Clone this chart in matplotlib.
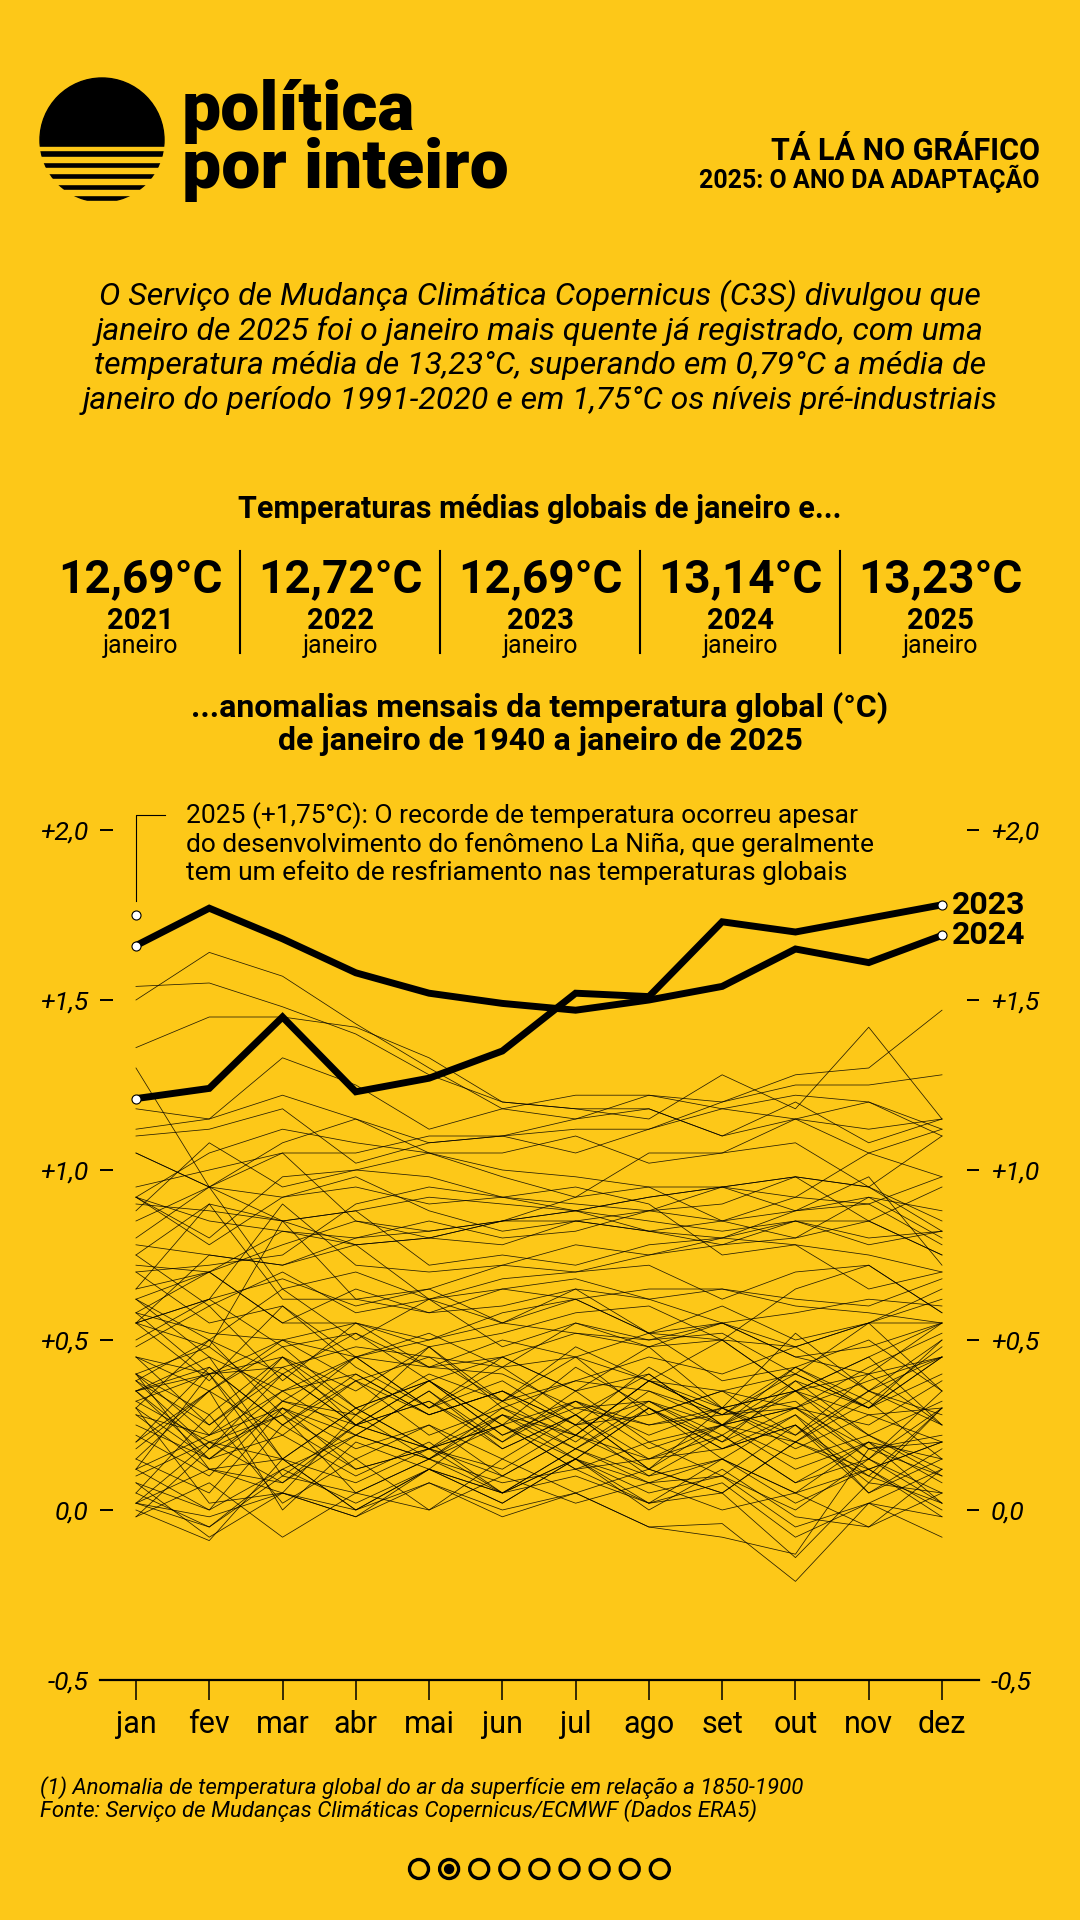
import matplotlib.pyplot as plt
from matplotlib.patches import Circle, Rectangle

BG = '#FDC818'
COND = ['Liberation Sans Narrow', 'Roboto', 'DejaVu Sans']
LOGO = ['Roboto', 'DejaVu Sans']

months = ['jan', 'fev', 'mar', 'abr', 'mai', 'jun', 'jul', 'ago', 'set', 'out', 'nov', 'dez']

# monthly anomalies (°C vs 1850-1900), 1940-2022
hist_years = list(range(1940, 2023))
hist = [
    [0.15, 0.35, 0.48, 0.30, 0.38, 0.25, 0.42, 0.30, 0.20, 0.38, 0.30, 0.45],
    [0.55, 0.38, 0.60, 0.42, 0.30, 0.45, 0.35, 0.48, 0.30, 0.52, 0.35, 0.45],
    [0.40, 0.22, 0.45, 0.30, 0.38, 0.25, 0.32, 0.22, 0.30, 0.20, 0.35, 0.25],
    [0.20, 0.42, 0.25, 0.40, 0.28, 0.35, 0.22, 0.38, 0.28, 0.42, 0.32, 0.48],
    [0.58, 0.40, 0.50, 0.38, 0.45, 0.32, 0.48, 0.38, 0.50, 0.35, 0.45, 0.25],
    [0.38, 0.18, 0.35, 0.45, 0.30, 0.38, 0.25, 0.42, 0.30, 0.35, 0.18, 0.10],
    [0.32, 0.20, 0.28, 0.15, 0.25, 0.10, 0.22, 0.12, 0.05, 0.20, 0.10, 0.02],
    [0.15, 0.05, 0.30, 0.22, 0.35, 0.18, 0.28, 0.15, 0.25, 0.38, 0.22, 0.12],
    [0.40, 0.12, 0.05, 0.28, 0.15, 0.25, 0.12, 0.20, 0.10, 0.25, 0.05, 0.15],
    [0.30, 0.15, 0.22, 0.10, 0.20, 0.05, 0.18, 0.08, 0.15, 0.02, 0.12, -0.02],
    [0.00, -0.09, 0.15, 0.00, 0.12, 0.05, 0.15, 0.02, 0.08, -0.08, 0.02, 0.12],
    [0.05, -0.05, 0.12, 0.22, 0.15, 0.28, 0.18, 0.32, 0.20, 0.30, 0.15, 0.35],
    [0.35, 0.40, 0.15, 0.30, 0.18, 0.25, 0.15, 0.30, 0.18, 0.25, 0.10, 0.30],
    [0.40, 0.28, 0.45, 0.25, 0.38, 0.22, 0.32, 0.25, 0.30, 0.18, 0.28, 0.20],
    [0.05, 0.28, 0.02, 0.15, 0.00, 0.15, 0.05, 0.12, 0.05, 0.20, 0.12, 0.00],
    [0.30, 0.02, 0.05, -0.02, 0.12, 0.02, 0.15, 0.05, 0.10, -0.05, 0.02, -0.02],
    [-0.02, 0.08, -0.08, 0.05, 0.00, 0.10, 0.02, 0.08, 0.00, 0.05, -0.05, 0.12],
    [0.02, 0.20, 0.08, 0.25, 0.18, 0.32, 0.20, 0.35, 0.25, 0.30, 0.38, 0.45],
    [0.62, 0.45, 0.35, 0.22, 0.35, 0.20, 0.32, 0.18, 0.25, 0.20, 0.32, 0.15],
    [0.35, 0.18, 0.40, 0.25, 0.32, 0.20, 0.35, 0.20, 0.25, 0.12, 0.20, 0.15],
    [0.18, 0.35, 0.00, 0.20, 0.12, 0.28, 0.15, 0.30, 0.18, 0.25, 0.08, 0.30],
    [0.35, 0.42, 0.25, 0.38, 0.22, 0.30, 0.18, 0.30, 0.15, 0.28, 0.12, 0.20],
    [0.28, 0.22, 0.30, 0.18, 0.25, 0.15, 0.28, 0.12, 0.25, 0.15, 0.22, 0.10],
    [0.12, 0.40, 0.10, 0.25, 0.18, 0.28, 0.22, 0.38, 0.30, 0.35, 0.28, 0.30],
    [0.28, 0.12, 0.15, 0.00, 0.08, -0.02, 0.05, -0.05, -0.04, -0.21, 0.02, -0.08],
    [0.08, 0.00, 0.12, 0.02, 0.12, 0.05, 0.10, 0.02, 0.15, 0.05, 0.12, 0.20],
    [0.10, 0.20, 0.15, 0.08, 0.18, 0.12, 0.25, 0.10, 0.22, 0.08, 0.15, 0.02],
    [0.12, 0.00, 0.25, 0.12, 0.18, 0.10, 0.22, 0.15, 0.18, 0.28, 0.05, 0.18],
    [-0.02, 0.18, 0.28, 0.05, 0.15, 0.05, 0.18, 0.10, 0.15, 0.05, 0.20, 0.08],
    [0.12, 0.22, 0.35, 0.40, 0.28, 0.35, 0.25, 0.32, 0.22, 0.35, 0.40, 0.45],
    [0.35, 0.45, 0.15, 0.30, 0.18, 0.25, 0.12, 0.15, 0.22, 0.08, 0.20, 0.02],
    [0.08, -0.08, 0.05, 0.00, 0.12, 0.02, 0.15, 0.08, 0.10, 0.00, 0.15, 0.05],
    [0.02, 0.12, 0.08, 0.22, 0.15, 0.30, 0.22, 0.38, 0.28, 0.40, 0.30, 0.50],
    [0.50, 0.62, 0.48, 0.52, 0.42, 0.45, 0.35, 0.40, 0.25, 0.30, 0.18, 0.20],
    [0.02, -0.05, 0.10, 0.05, 0.15, 0.08, 0.12, 0.02, 0.05, -0.14, 0.08, 0.05],
    [0.25, 0.15, 0.30, 0.12, 0.18, 0.05, 0.15, 0.00, 0.12, -0.02, -0.05, 0.05],
    [0.02, -0.02, 0.05, -0.02, 0.08, 0.00, 0.05, -0.05, -0.08, -0.13, 0.18, 0.22],
    [0.32, 0.40, 0.45, 0.35, 0.48, 0.32, 0.45, 0.28, 0.35, 0.22, 0.35, 0.28],
    [0.38, 0.25, 0.40, 0.25, 0.32, 0.18, 0.28, 0.12, 0.30, 0.22, 0.40, 0.25],
    [0.22, 0.10, 0.32, 0.28, 0.40, 0.32, 0.38, 0.45, 0.40, 0.48, 0.55, 0.65],
    [0.48, 0.60, 0.38, 0.55, 0.42, 0.50, 0.45, 0.52, 0.38, 0.42, 0.50, 0.35],
    [0.70, 0.55, 0.60, 0.45, 0.52, 0.42, 0.55, 0.48, 0.50, 0.35, 0.45, 0.55],
    [0.20, 0.35, 0.22, 0.38, 0.28, 0.35, 0.25, 0.28, 0.35, 0.30, 0.42, 0.52],
    [0.62, 0.50, 0.65, 0.50, 0.62, 0.48, 0.55, 0.50, 0.52, 0.40, 0.55, 0.35],
    [0.45, 0.25, 0.42, 0.28, 0.48, 0.30, 0.38, 0.35, 0.28, 0.32, 0.15, 0.30],
    [0.35, 0.15, 0.32, 0.25, 0.38, 0.22, 0.30, 0.32, 0.25, 0.35, 0.22, 0.32],
    [0.40, 0.48, 0.32, 0.45, 0.30, 0.42, 0.28, 0.40, 0.25, 0.42, 0.30, 0.45],
    [0.38, 0.50, 0.28, 0.45, 0.50, 0.58, 0.62, 0.52, 0.60, 0.50, 0.55, 0.62],
    [0.75, 0.60, 0.70, 0.58, 0.62, 0.55, 0.62, 0.52, 0.55, 0.48, 0.35, 0.50],
    [0.30, 0.50, 0.40, 0.52, 0.38, 0.45, 0.52, 0.48, 0.55, 0.45, 0.40, 0.55],
    [0.55, 0.48, 0.85, 0.62, 0.65, 0.55, 0.65, 0.52, 0.50, 0.65, 0.72, 0.58],
    [0.62, 0.70, 0.55, 0.65, 0.58, 0.65, 0.68, 0.62, 0.55, 0.45, 0.48, 0.55],
    [0.58, 0.52, 0.50, 0.45, 0.42, 0.40, 0.30, 0.25, 0.28, 0.30, 0.25, 0.38],
    [0.45, 0.40, 0.42, 0.48, 0.45, 0.42, 0.45, 0.38, 0.35, 0.40, 0.30, 0.40],
    [0.45, 0.35, 0.50, 0.55, 0.50, 0.55, 0.52, 0.50, 0.55, 0.58, 0.62, 0.60],
    [0.80, 0.95, 0.65, 0.70, 0.62, 0.68, 0.70, 0.72, 0.62, 0.70, 0.72, 0.58],
    [0.58, 0.70, 0.55, 0.55, 0.48, 0.52, 0.58, 0.60, 0.50, 0.48, 0.55, 0.55],
    [0.55, 0.62, 0.68, 0.60, 0.65, 0.72, 0.70, 0.75, 0.80, 0.85, 0.80, 0.82],
    [0.88, 1.08, 0.95, 1.00, 0.98, 0.92, 0.95, 0.90, 0.75, 0.78, 0.65, 0.70],
    [0.65, 0.90, 0.62, 0.62, 0.58, 0.60, 0.65, 0.62, 0.65, 0.62, 0.60, 0.68],
    [0.55, 0.75, 0.72, 0.78, 0.62, 0.65, 0.62, 0.65, 0.65, 0.60, 0.58, 0.55],
    [0.65, 0.70, 0.82, 0.78, 0.80, 0.78, 0.85, 0.82, 0.78, 0.80, 0.92, 0.80],
    [0.95, 1.00, 1.05, 0.85, 0.82, 0.85, 0.88, 0.82, 0.85, 0.80, 0.85, 0.75],
    [0.92, 0.85, 0.82, 0.80, 0.85, 0.80, 0.82, 0.88, 0.90, 0.98, 0.85, 0.95],
    [0.85, 0.95, 0.85, 0.88, 0.72, 0.75, 0.72, 0.78, 0.80, 0.88, 0.90, 0.78],
    [0.92, 0.78, 0.92, 0.95, 0.90, 0.92, 0.90, 0.88, 0.95, 0.98, 0.95, 0.85],
    [0.75, 0.90, 0.85, 0.78, 0.80, 0.85, 0.85, 0.88, 0.85, 0.92, 0.90, 0.98],
    [1.30, 0.95, 0.92, 0.98, 0.88, 0.82, 0.85, 0.82, 0.80, 0.78, 0.75, 0.70],
    [0.55, 0.62, 0.90, 0.72, 0.70, 0.72, 0.78, 0.75, 0.78, 0.85, 0.85, 0.75],
    [0.78, 0.75, 0.72, 0.80, 0.82, 0.85, 0.92, 0.95, 0.95, 0.88, 0.92, 0.88],
    [0.92, 1.05, 1.12, 1.08, 1.05, 1.00, 0.98, 0.95, 0.85, 0.88, 0.98, 0.72],
    [0.72, 0.70, 0.78, 0.85, 0.80, 0.85, 0.88, 0.85, 0.82, 0.85, 0.78, 0.82],
    [0.70, 0.72, 0.75, 0.90, 0.95, 0.92, 0.88, 0.92, 0.95, 0.98, 0.95, 0.82],
    [0.90, 0.88, 0.85, 0.88, 0.92, 0.90, 0.88, 0.92, 0.95, 0.92, 1.05, 0.98],
    [0.92, 0.80, 0.98, 1.00, 1.05, 0.98, 0.92, 1.05, 1.05, 1.08, 0.95, 1.10],
    [1.10, 1.12, 1.18, 1.02, 1.08, 1.10, 1.05, 1.12, 1.20, 1.28, 1.30, 1.47],
    [1.50, 1.64, 1.57, 1.43, 1.30, 1.18, 1.15, 1.22, 1.18, 1.15, 1.20, 1.12],
    [1.36, 1.45, 1.45, 1.42, 1.33, 1.20, 1.18, 1.18, 1.10, 1.15, 1.12, 1.15],
    [1.05, 0.95, 1.08, 1.15, 1.05, 1.05, 1.10, 1.02, 1.05, 1.15, 1.05, 1.12],
    [1.12, 1.15, 1.33, 1.25, 1.12, 1.18, 1.22, 1.22, 1.20, 1.25, 1.25, 1.28],
    [1.54, 1.55, 1.48, 1.40, 1.28, 1.20, 1.18, 1.15, 1.28, 1.18, 1.42, 1.15],
    [1.05, 0.95, 1.05, 1.05, 1.10, 1.10, 1.12, 1.12, 1.18, 1.22, 1.20, 1.10],
    [1.18, 1.15, 1.22, 1.15, 1.08, 1.10, 1.15, 1.18, 1.10, 1.20, 1.08, 1.15],
]
y2023 = [1.21, 1.24, 1.45, 1.23, 1.27, 1.35, 1.52, 1.51, 1.73, 1.70, 1.74, 1.78]
y2024 = [1.66, 1.77, 1.68, 1.58, 1.52, 1.49, 1.47, 1.50, 1.54, 1.65, 1.61, 1.69]
y2025 = [1.75]

stat_values = ['12,69°C', '12,72°C', '12,69°C', '13,14°C', '13,23°C']
stat_years = ['2021', '2022', '2023', '2024', '2025']

yticks = [-0.5, 0.0, 0.5, 1.0, 1.5, 2.0]
ytick_labels = ['-0,5', '0,0', '+0,5', '+1,0', '+1,5', '+2,0']

fig = plt.figure(figsize=(10.8, 19.2), dpi=100, facecolor=BG)

# full-figure layer in pixel units for the page furniture
bg = fig.add_axes([0, 0, 1, 1])
bg.set_xlim(0, 1080)
bg.set_ylim(1920, 0)
bg.axis('off')

# logo
bg.add_patch(Circle((102, 140), 62, color='black'))
for y0, y1 in [(147, 150), (157, 162), (168, 173), (179, 184), (190, 195), (201, 210)]:
    bg.add_patch(Rectangle((30, y0), 150, y1 - y0, color=BG))
bg.text(182, 79, 'política\npor inteiro', family=LOGO, weight='black', fontsize=50,
        va='top', ha='left', linespacing=0.86)

bg.text(1040, 151, 'TÁ LÁ NO GRÁFICO', family=COND, weight='bold', fontsize=22,
        ha='right', va='center')
bg.text(1040, 179, '2025: O ANO DA ADAPTAÇÃO', family=COND, weight='bold', fontsize=18,
        ha='right', va='center')

intro = ['O Serviço de Mudança Climática Copernicus (C3S) divulgou que',
         'janeiro de 2025 foi o janeiro mais quente já registrado, com uma',
         'temperatura média de 13,23°C, superando em 0,79°C a média de',
         'janeiro do período 1991-2020 e em 1,75°C os níveis pré-industriais']
for i, line in enumerate(intro):
    bg.text(540, 296 + 34.7 * i, line, family=COND, style='italic', fontsize=23,
            ha='center', va='center')

bg.text(540, 509, 'Temperaturas médias globais de janeiro e...', family=COND,
        weight='bold', fontsize=22, ha='center', va='center')

for i, (v, yr) in enumerate(zip(stat_values, stat_years)):
    cx = 140 + 200 * i
    bg.text(cx, 579, v, family=COND, weight='bold', fontsize=33, ha='center', va='center')
    bg.text(cx, 621, yr, family=COND, weight='bold', fontsize=21, ha='center', va='center')
    bg.text(cx, 646, 'janeiro', family=COND, fontsize=18, ha='center', va='center')
    if i < 4:
        bg.plot([cx + 100, cx + 100], [551, 653], color='black', lw=1.5)

bg.text(540, 708, '...anomalias mensais da temperatura global (°C)', family=COND,
        weight='bold', fontsize=23, ha='center', va='center')
bg.text(540, 741, 'de janeiro de 1940 a janeiro de 2025', family=COND,
        weight='bold', fontsize=23, ha='center', va='center')

# chart
ax = fig.add_axes([100 / 1080, 1 - 1680 / 1920, 879 / 1080, 2.8 * 340 / 1920])
ax.set_facecolor('none')
ax.set_xlim(-0.491, 11.505)
ax.set_ylim(-0.5, 2.3)
x = list(range(12))

for row in hist:
    ax.plot(x, row, color='black', lw=0.55, alpha=0.85, zorder=2)

for vals in (y2023, y2024):
    ax.plot(x, vals, color='black', lw=5, zorder=4, solid_joinstyle='miter',
            solid_capstyle='butt')
    ax.plot([0, 11], [vals[0], vals[-1]], 'o', ms=6.5, mfc='white', mec='black',
            mew=0.8, zorder=5, clip_on=False)
ax.plot([0], y2025, 'o', ms=6.5, mfc='white', mec='black', mew=0.8, zorder=5,
        clip_on=False)

for lab, vals in (('2023', y2023), ('2024', y2024)):
    ax.annotate(lab, (11, vals[-1]), xytext=(7, 0), textcoords='offset points',
                family=COND, weight='bold', fontsize=23, va='center', ha='left')

# annotation for 2025
top = 2.045
ax.plot([0, 0, 0.4], [y2025[0] + 0.04, top, top], color='black', lw=0.8,
        clip_on=False, zorder=3)
note = ['2025 (+1,75°C): O recorde de temperatura ocorreu apesar',
        'do desenvolvimento do fenômeno La Niña, que geralmente',
        'tem um efeito de resfriamento nas temperaturas globais']
for i, line in enumerate(note):
    bg.text(186, 816 + 28.3 * i, line, family=COND, fontsize=19, ha='left', va='center')

for s in ['top', 'left', 'right']:
    ax.spines[s].set_visible(False)
ax.spines['bottom'].set_linewidth(1.6)

ax.set_xticks(x)
ax.set_xticklabels(months, family=COND, fontsize=22)
ax.tick_params(axis='x', direction='out', length=14.5, width=1.1, pad=7)

ax.set_yticks(yticks)
ax.set_yticklabels(ytick_labels, family=COND, style='italic', fontsize=19)
ax.tick_params(axis='y', direction='in', length=9, width=1.4, pad=8.5,
               left=True, right=True, labelleft=True, labelright=True)
for tick in ax.yaxis.get_major_ticks():
    tick.label1.set_fontstyle('italic')
    tick.label2.set_fontstyle('italic')
    tick.label2.set_fontsize(19)

# footnote
bg.text(40, 1788, '(1) Anomalia de temperatura global do ar da superfície em relação a 1850-1900',
        family=COND, style='italic', fontsize=16, ha='left', va='center')
bg.text(40, 1811, 'Fonte: Serviço de Mudanças Climáticas Copernicus/ECMWF (Dados ERA5)',
        family=COND, style='italic', fontsize=16, ha='left', va='center')

# page dots
for i in range(9):
    cx = 419 + 30.1 * i
    bg.add_patch(Circle((cx, 1869), 9.5, facecolor='none', edgecolor='black', lw=2.4))
    if i == 1:
        bg.add_patch(Circle((cx, 1869), 4.5, color='black'))

fig.savefig('out.png', dpi=100, facecolor=BG)
